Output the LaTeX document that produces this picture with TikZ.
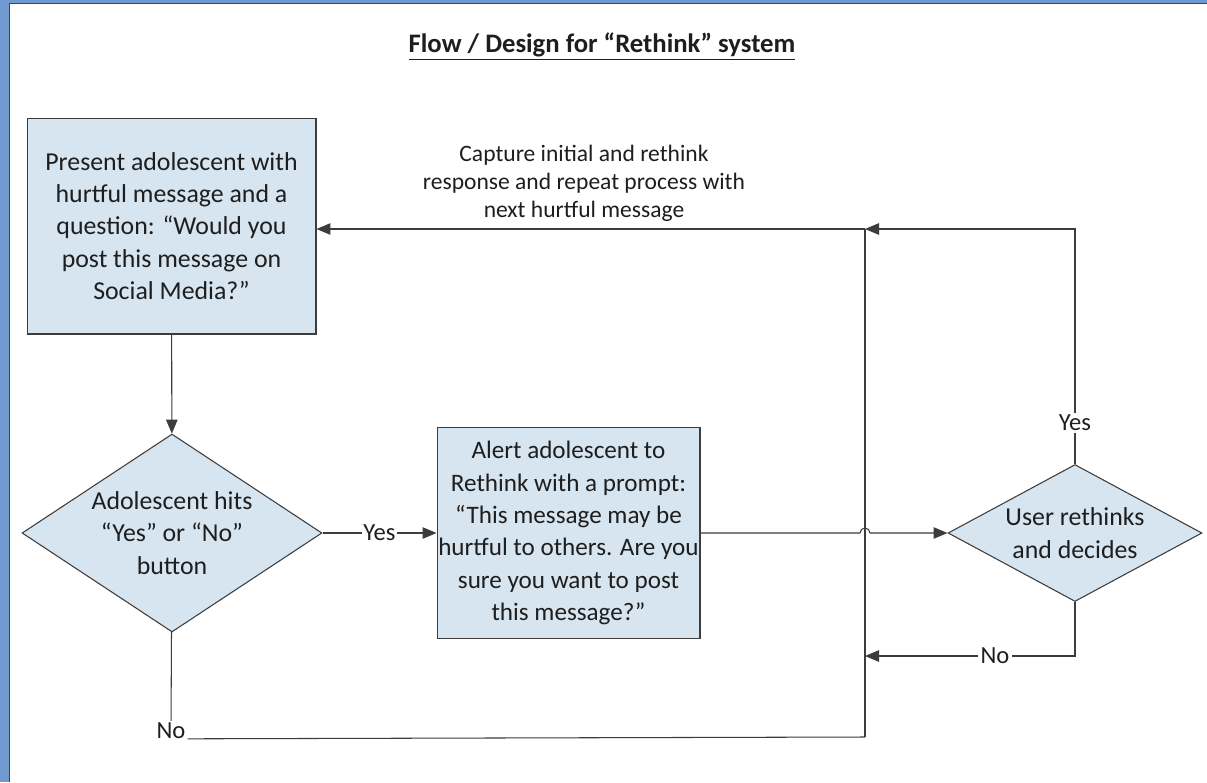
\documentclass[tikz,border=0pt]{standalone}
\usepackage{fontspec}
\setmainfont{Carlito}
\usetikzlibrary{shapes.geometric,arrows.meta}

\definecolor{frameblue}{RGB}{112,153,208}
\definecolor{frameline}{RGB}{58,72,92}
\definecolor{boxfill}{RGB}{215,229,240}
\definecolor{inkgrey}{RGB}{60,60,60}
\definecolor{textgrey}{RGB}{30,30,30}

\tikzset{
    procbox/.style={draw=inkgrey, fill=boxfill, line width=0.6pt, align=center,
        text=textgrey, inner sep=0pt, font=\fontsize{14.7}{18.4}\selectfont},
    decbox/.style={procbox, diamond},
    flowlabel/.style={text=textgrey, font=\fontsize{14}{16}\selectfont, inner sep=1pt},
    flow/.style={draw=inkgrey, line width=0.6pt},
}

\begin{document}
\begin{tikzpicture}[x=0.02cm, y=-0.02cm, >={Triangle[length=2.8mm,width=2.3mm]}]
    \useasboundingbox (0,0) rectangle (1207,782);
    % Page frame
    \fill[white] (0,0) rectangle (1207,782);
    \fill[frameblue] (0,0) rectangle (9,782);
    \fill[frameblue] (0,0) rectangle (1207,3);
    \draw[frameline, line width=0.8pt] (9.5,782) -- (9.5,3.5) -- (1207,3.5);

    % Title
    \node[text=textgrey, font=\bfseries\fontsize{15.2}{18}\selectfont] (title) at (602,47)
        {\underline{Flow / Design for “Rethink” system}};

    % Nodes for the steps
    \node[procbox, minimum width=5.78cm, minimum height=4.32cm] (present) at (171.5,226)
        {Present adolescent with\\hurtful message and a\\question: “Would you\\post this message on\\Social Media?”};
    \node[decbox, shape aspect=1.5, minimum width=6cm, minimum height=3.96cm] (hits) at (172,533)
        {Adolescent hits\\“Yes” or “No”\\button};
    \node[procbox, minimum width=5.26cm, minimum height=4.22cm, font=\fontsize{14.3}{18.4}\selectfont] (alert) at (568.5,533)
        {Alert adolescent to\\Rethink with a prompt:\\“This message may be\\hurtful to others. Are you\\sure you want to post\\this message?”};
    \node[decbox, shape aspect=1.85, minimum width=5.08cm, minimum height=2.74cm] (decide) at (1075,533)
        {User rethinks\\and decides};

    % Junctions on the return line
    \coordinate (jtop) at (865,229);
    \coordinate (jmid) at (865,656);
    \coordinate (jbot) at (865,737);
    \coordinate (hop) at (865,533);

    % Labels on the connectors
    \node[flowlabel] (yesR) at (1075,423) {Yes};
    \node[flowlabel] (noR) at (995,656) {No};
    \node[flowlabel] (noL) at (171,731) {No};
    \node[flowlabel, align=center, font=\fontsize{13.4}{15.9}\selectfont] (capture) at (584,183)
        {Capture initial and rethink\\response and repeat process with\\next hurtful message};

    % Edges
    \draw[->, flow] (present) -- (hits);
    \draw[->, flow] (hits) -- (alert) node[midway, flowlabel, fill=white] {Yes};
    \draw[->, flow] (alert) -- ([xshift=-0.1cm]hop) arc[start angle=180, end angle=0, radius=0.1cm] -- (decide);
    \draw[flow] (decide) -- (yesR);
    \draw[->, flow] (yesR) |- (jtop);
    \draw[flow] (decide) |- (noR);
    \draw[->, flow] (noR) -- (jmid);
    \draw[->, flow] (jtop) -- (present.east |- jtop);
    \draw[flow] (jtop) -- (jbot);
    \draw[flow] (hits) -- (noL);
    \draw[flow] (noL.base east) -- (jbot);
\end{tikzpicture}
\end{document}
